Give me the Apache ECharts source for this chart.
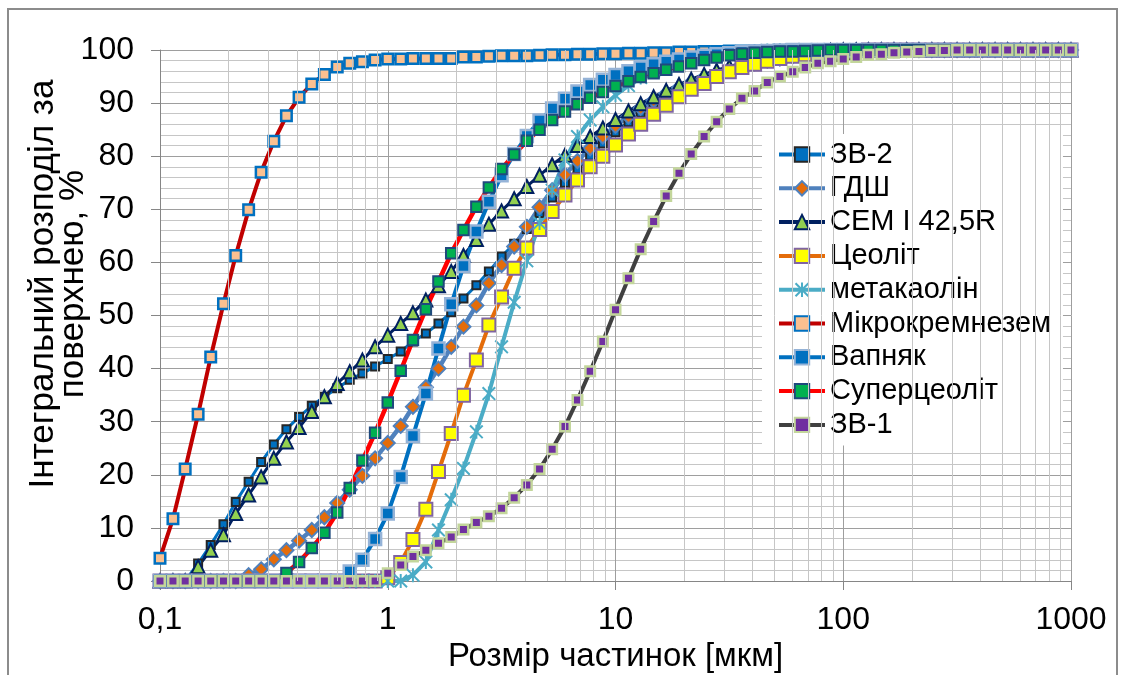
<!DOCTYPE html>
<html>
<head>
<meta charset="utf-8">
<script src="https://cdn.jsdelivr.net/npm/echarts@6/dist/echarts.min.js"></script>
<style>
html,body{margin:0;padding:0;background:#fff;}
#c{width:1123px;height:675px;}
</style>
</head>
<body>
<div id="c"></div>
<script>
// particle sizes, µm (log-spaced instrument classes)
const sizes = [
  0.1,0.114,0.129,0.147,0.167,0.19,0.215,0.245,0.278,0.316,0.359,0.408,0.464,0.527,0.6,0.681,0.774,0.88,
  1,1.14,1.29,1.47,1.67,1.9,2.15,2.45,2.78,3.16,3.59,4.08,4.64,5.27,6,6.81,7.74,8.8,
  10,11.4,12.9,14.7,16.7,19,21.5,24.5,27.8,31.6,35.9,40.8,46.4,52.7,60,68.1,77.4,88,
  100,114,129,147,167,190,215,245,278,316,359,408,464,527,600,681,774,880,
  1000
];
const zv2 = [
  0,0,0,3.3,6.8,10.7,14.9,18.7,22.4,25.7,28.6,30.9,33.0,34.7,36.3,37.9,39.1,40.4,
  41.8,43.2,45.1,46.6,48.5,50.6,53.2,55.7,58.3,61.1,63.5,66.3,69.3,72.2,75.0,77.6,80.1,82.4,
  84.5,86.4,88.2,89.7,91.1,92.3,93.4,94.4,95.3,96.1,96.8,97.4,97.9,98.4,98.8,99.1,99.4,99.6,
  99.8,99.9,100,100,100,100,100,100,100,100,100,100,100,100,100,100,100,100,
  100
];
const gdsh = [
  0,0,0,0,0,0,0,1.1,2.2,4.1,5.8,7.6,9.6,12.0,14.7,17.2,19.8,23.1,
  26.0,29.2,32.8,36.5,40.0,44.1,47.9,51.9,56.1,59.5,63.0,66.7,70.4,73.6,76.5,79.1,81.5,83.7,
  85.7,87.5,89.1,90.5,91.8,92.9,93.9,94.8,95.6,96.3,96.9,97.5,98.0,98.4,98.8,99.1,99.4,99.6,
  99.8,99.9,100,100,100,100,100,100,100,100,100,100,100,100,100,100,100,100,
  100
];
const cem = [
  0,0,0,2.7,5.8,8.7,12.7,16.2,19.6,23.1,26.2,28.9,31.9,34.7,37.2,39.4,41.6,44.1,
  46.3,48.5,50.5,52.9,55.6,58.3,61.3,64.3,67.2,69.7,72.0,74.3,76.4,78.4,80.2,82.0,83.7,85.3,
  86.9,88.5,89.9,91.2,92.4,93.5,94.5,95.4,96.2,96.9,97.5,98.0,98.5,98.9,99.2,99.5,99.7,99.9,
  100,100,100,100,100,100,100,100,100,100,100,100,100,100,100,100,100,100,
  100
];
const ceolit = [
  0,0,0,0,0,0,0,0,0,0,0,0,0,0,0,0,0,0,
  0.6,3.5,7.8,13.5,20.6,27.8,35.0,41.6,48.2,53.5,58.9,62.7,66.2,69.6,72.7,75.5,78.0,80.0,
  82.1,84.2,86.0,87.9,89.6,91.2,92.6,93.7,95.0,95.9,96.7,97.3,97.9,98.4,98.8,99.1,99.4,99.6,
  99.8,99.9,100,100,100,100,100,100,100,100,100,100,100,100,100,100,100,100,
  100
];
const metakaolin = [
  0,0,0,0,0,0,0,0,0,0,0,0,0,0,0,0,0,0,
  0,0,1.1,3.6,9.6,15.3,21.2,28.1,35.3,44.1,52.5,60.3,67.4,73.6,79.3,83.7,86.8,89.3,
  91.5,93.3,94.8,96.0,96.9,97.6,98.2,98.7,99.1,99.4,99.6,99.8,99.9,100,100,100,100,100,
  100,100,100,100,100,100,100,100,100,100,100,100,100,100,100,100,100,100,
  100
];
const mikrokremnezem = [
  4.3,11.7,21.1,31.4,42.2,52.2,61.3,69.9,77.0,82.8,87.6,91.1,93.6,95.4,96.8,97.5,97.8,98.1,
  98.3,98.3,98.4,98.4,98.4,98.4,98.7,98.7,98.8,98.9,98.9,98.9,99.0,99.1,99.1,99.2,99.2,99.3,
  99.3,99.4,99.4,99.5,99.5,99.6,99.6,99.7,99.7,99.8,99.8,99.8,99.9,99.9,99.9,100,100,100,
  100,100,100,100,100,100,100,100,100,100,100,100,100,100,100,100,100,100,
  100
];
const vapnyak = [
  0,0,0,0,0,0,0,0,0,0,0,0,0,0,0,1.8,4.0,7.9,
  12.7,19.6,27.3,35.3,43.8,52.1,59.3,65.8,71.4,76.4,80.4,83.8,86.7,89.0,90.8,92.2,93.4,94.4,
  95.3,96.0,96.7,97.3,97.8,98.2,98.6,98.9,99.2,99.4,99.6,99.7,99.8,99.9,100,100,100,100,
  100,100,100,100,100,100,100,100,100,100,100,100,100,100,100,100,100,100,
  100
];
const superceolit = [
  0,0,0,0,0,0,0,0,0,0,1.5,3.6,6.2,9.1,12.9,17.5,22.7,27.9,
  33.6,39.6,45.4,51.2,56.4,61.7,66.1,70.5,74.1,77.6,80.3,82.9,85.0,86.8,88.4,89.8,91.0,92.1,
  93.2,94.1,94.9,95.6,96.3,96.9,97.5,98.1,98.6,99.0,99.3,99.5,99.6,99.7,99.7,99.8,99.9,100,
  100,100,100,100,100,100,100,100,100,100,100,100,100,100,100,100,100,100,
  100
];
const zv1 = [
  0,0,0,0,0,0,0,0,0,0,0,0,0,0,0,0,0,0,
  1.45,3.0,4.6,5.8,7.1,8.3,9.7,11.0,12.2,13.7,15.7,18.1,21.1,24.8,29.1,34.1,39.5,45.1,
  51.1,57.0,62.5,67.7,72.5,76.8,80.4,83.7,86.5,88.9,90.9,92.3,93.9,95.0,95.9,96.7,97.5,97.9,
  98.3,98.7,99.1,99.2,99.5,99.6,99.7,99.9,99.9,100,100,100,100,100,100,100,100,100,
  100
];
const xTickLabels = ['0,1','1','10','100','1000'];
const minorX = [0.2,0.3,0.4,0.5,0.6,0.7,0.8,0.9, 2,3,4,5,6,7,8,9, 20,30,40,50,60,70,80,90, 200,300,400,500,600,700,800,900];

const FONT = "'Liberation Sans', Arial, sans-serif";
const asterisk = 'path://M43,0L57,0L57,100L43,100Z M0,10L10,0L100,90L90,100Z M90,0L100,10L10,100L0,90Z';

function pts(arr){ return sizes.map((x,i)=>[x, arr[i]]); }
function mk(name, arr, line, lw, symbol, size, fill, border, bw){
  return {
    name, type:'line', data: pts(arr), z: 3,
    lineStyle:{color:line, width:lw},
    symbol, symbolSize:size, showSymbol:true,
    itemStyle:{color:fill, borderColor:border, borderWidth:bw},
    emphasis:{disabled:true}
  };
}

const series = [
  {name:'_minor', type:'line', data:[], z:1, silent:true,
   markLine:{silent:true, symbol:'none', animation:false, label:{show:false},
     lineStyle:{color:'#C6C6C6', width:1, type:'solid'},
     data: minorX.map(v=>({xAxis:v}))}},
  mk('ЗВ-2', zv2, '#0070C0', 3, 'rect', 8, '#0070C0', '#262626', 2),
  mk('ГДШ', gdsh, '#4F81BD', 4.5, 'diamond', 14, '#E46C0A', '#4F81BD', 2),
  mk('CEM I 42,5R', cem, '#002060', 3, 'triangle', 13, '#92D050', '#002060', 2),
  mk('Цеоліт', ceolit, '#E46C0A', 4, 'rect', 13, '#FFFF00', '#8064A2', 2),
  mk('метакаолін', metakaolin, '#4BACC6', 4, asterisk, 14, '#4BACC6', '#4BACC6', 0),
  mk('Мікрокремнезем', mikrokremnezem, '#C00000', 4, 'rect', 10.5, '#FAC090', '#0070C0', 2.5),
  mk('Вапняк', vapnyak, '#0070C0', 4, 'rect', 12, '#0070C0', '#95B3D7', 2.5),
  mk('Суперцеоліт', superceolit, '#FF0000', 4.5, 'rect', 10.5, '#00B050', '#1F497D', 2),
  mk('ЗВ-1', zv1, '#404040', 4, 'rect', 9.5, '#7030A0', '#C3D69B', 2.5)
];

const chart = echarts.init(document.getElementById('c'), null, {renderer:'canvas'});
chart.setOption({
  animation:false,
  backgroundColor:'#fff',
  textStyle:{fontFamily:FONT},
  grid:{left:160, right:52, top:50, bottom:94, containLabel:false, outerBoundsMode:'none'},
  xAxis:{
    type:'log', logBase:10, min:0.1, max:1000,
    name:'Розмір частинок [мкм]', nameLocation:'middle', nameGap:43,
    nameTextStyle:{fontSize:33, color:'#000', fontFamily:FONT},
    axisLine:{show:true, onZero:false, lineStyle:{color:'#868686', width:1}},
    axisTick:{show:true, inside:false, length:9, lineStyle:{color:'#868686'}},
    axisLabel:{fontSize:32, color:'#000', margin:23, fontFamily:FONT,
      formatter:(v,i)=>xTickLabels[i]},
    splitLine:{show:true, lineStyle:{color:'#9E9E9E', width:1}}
  },
  yAxis:{
    type:'value', min:0, max:100, interval:10,
    axisLine:{show:true, lineStyle:{color:'#868686', width:1}},
    axisTick:{show:true, inside:false, length:9, lineStyle:{color:'#868686'}},
    minorTick:{show:true, splitNumber:5, length:0},
    minorSplitLine:{show:true, lineStyle:{color:'#C6C6C6', width:1}},
    axisLabel:{fontSize:32, color:'#000', margin:26, fontFamily:FONT},
    splitLine:{show:true, lineStyle:{color:'#9E9E9E', width:1}}
  },
  legend:{
    data:['ЗВ-2','ГДШ','CEM I 42,5R','Цеоліт','метакаолін','Мікрокремнезем','Вапняк','Суперцеоліт','ЗВ-1'],
    orient:'vertical', left:762, top:134,
    padding:[6,12,6,15], backgroundColor:'#fff',
    itemWidth:46, itemHeight:18, itemGap:4.8,
    lineStyle:{width:4},
    textStyle:{fontSize:29, lineHeight:29, color:'#000', fontFamily:FONT},
    selectedMode:false
  },
  graphic:[
    {type:'rect', shape:{x:8, y:9, width:1109, height:675}, silent:true,
     style:{fill:'none', stroke:'#8C8C8C', lineWidth:2}},
    {type:'text', x:58, y:284, rotation:Math.PI/2, silent:true,
     style:{text:'Інтегральний розподіл за\nповерхнею, %', fontSize:35, lineHeight:30,
       fontFamily:FONT, fill:'#000', align:'center', verticalAlign:'middle'}}
  ],
  series
});
</script>
</body>
</html>
